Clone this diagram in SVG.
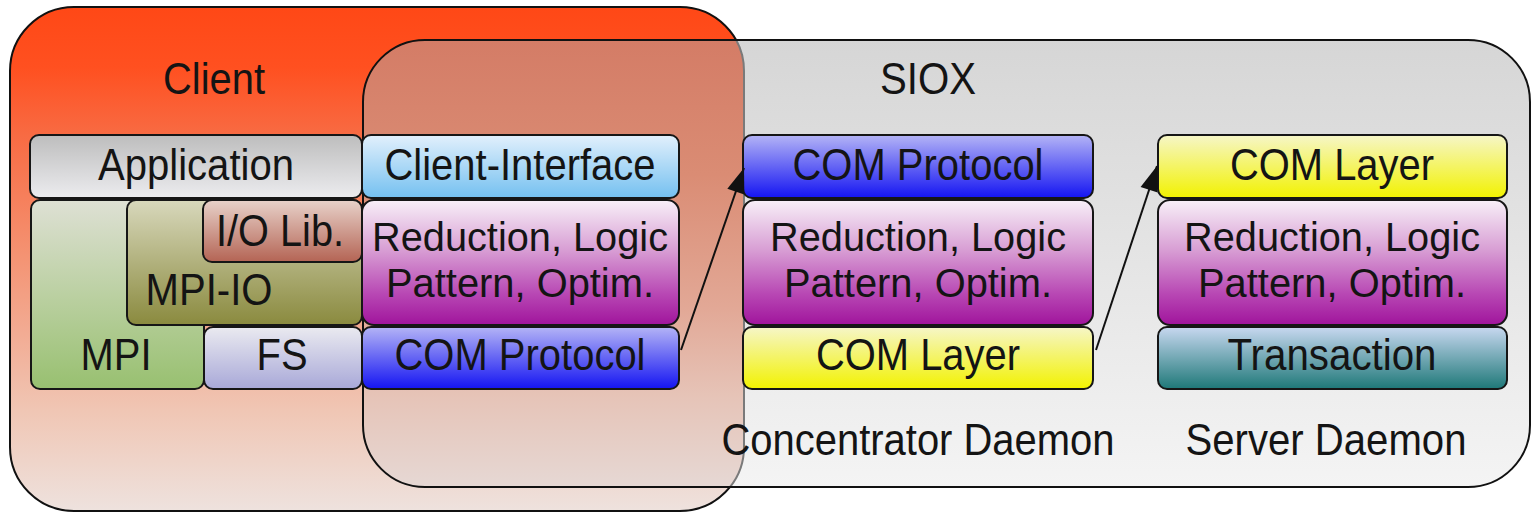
<svg xmlns="http://www.w3.org/2000/svg" width="1532" height="514" viewBox="0 0 1532 514">
  <defs>
    <linearGradient id="gClient" gradientUnits="userSpaceOnUse" x1="0" y1="7" x2="0" y2="511">
      <stop offset="0" stop-color="#FF4816"/>
      <stop offset="0.12" stop-color="#FF5020"/>
      <stop offset="0.25" stop-color="#F86A42"/>
      <stop offset="0.5" stop-color="#F49474"/>
      <stop offset="0.65" stop-color="#F2AC94"/>
      <stop offset="0.8" stop-color="#F0C6B4"/>
      <stop offset="1" stop-color="#EEE2DE"/>
    </linearGradient>
    <linearGradient id="gSiox" gradientUnits="userSpaceOnUse" x1="0" y1="40" x2="0" y2="487">
      <stop offset="0" stop-color="#D6D6D6"/>
      <stop offset="1" stop-color="#F4F4F4"/>
    </linearGradient>
    <linearGradient id="gOverlap" gradientUnits="userSpaceOnUse" x1="0" y1="40" x2="0" y2="487">
      <stop offset="0" stop-color="#D47C66"/>
      <stop offset="0.3" stop-color="#DA8C74"/>
      <stop offset="0.6" stop-color="#E2A896"/>
      <stop offset="0.8" stop-color="#E6C4B8"/>
      <stop offset="1" stop-color="#E6D8D4"/>
    </linearGradient>
    <linearGradient id="gApp" x1="0" y1="0" x2="0" y2="1">
      <stop offset="0" stop-color="#BDBDBD"/>
      <stop offset="1" stop-color="#ECECEF"/>
    </linearGradient>
    <linearGradient id="gIface" x1="0" y1="0" x2="0" y2="1">
      <stop offset="0" stop-color="#E2F0FC"/>
      <stop offset="1" stop-color="#74C0F0"/>
    </linearGradient>
    <linearGradient id="gReduce" x1="0" y1="0" x2="0" y2="1">
      <stop offset="0" stop-color="#F8F0F8"/>
      <stop offset="0.4" stop-color="#D89ED4"/>
      <stop offset="0.75" stop-color="#B848B4"/>
      <stop offset="1" stop-color="#A0149C"/>
    </linearGradient>
    <linearGradient id="gProto" x1="0" y1="0" x2="0" y2="1">
      <stop offset="0" stop-color="#B4B4F6"/>
      <stop offset="1" stop-color="#1414F2"/>
    </linearGradient>
    <linearGradient id="gLayer" x1="0" y1="0" x2="0" y2="1">
      <stop offset="0" stop-color="#F6F6C8"/>
      <stop offset="1" stop-color="#F2F200"/>
    </linearGradient>
    <linearGradient id="gTrans" x1="0" y1="0" x2="0" y2="1">
      <stop offset="0" stop-color="#C8D8F0"/>
      <stop offset="1" stop-color="#1E7878"/>
    </linearGradient>
    <linearGradient id="gMpi" x1="0" y1="0" x2="0" y2="1">
      <stop offset="0" stop-color="#DEE0D4"/>
      <stop offset="1" stop-color="#98C070"/>
    </linearGradient>
    <linearGradient id="gMpiio" x1="0" y1="0" x2="0" y2="1">
      <stop offset="0" stop-color="#D8D8BC"/>
      <stop offset="1" stop-color="#8A8A3E"/>
    </linearGradient>
    <linearGradient id="gIolib" x1="0" y1="0" x2="0" y2="1">
      <stop offset="0" stop-color="#E8D2CA"/>
      <stop offset="1" stop-color="#B46454"/>
    </linearGradient>
    <linearGradient id="gFs" x1="0" y1="0" x2="0" y2="1">
      <stop offset="0" stop-color="#EAEAF0"/>
      <stop offset="1" stop-color="#A8A8D8"/>
    </linearGradient>
    <clipPath id="clipClient">
      <rect x="10" y="7" width="734" height="504" rx="64" ry="64"/>
    </clipPath>
    <clipPath id="clipSiox">
      <rect x="363" y="40" width="1167" height="447" rx="62" ry="62"/>
    </clipPath>
    <marker id="arrow" markerUnits="userSpaceOnUse" markerWidth="25" markerHeight="18" refX="25" refY="9" orient="auto" overflow="visible">
      <path d="M0,0 L25,9 L0,18 Z" fill="#111"/>
    </marker>
  </defs>
  <style>
    .box { stroke: #161616; stroke-width: 2; }
    .lbl { font-family: "Liberation Sans", Arial, sans-serif; font-size: 44px; fill: #141414; text-anchor: middle; }
    .two { font-size: 41px; }
    .conn { stroke: #111; stroke-width: 2; fill: none; }
  </style>

  <!-- containers: Client and SIOX regions -->
  <g id="client-area">
    <rect x="10" y="7" width="734" height="504" rx="64" ry="64" fill="url(#gClient)" stroke="#111" stroke-width="2"/>
    <text class="lbl" x="214" y="94" textLength="102" lengthAdjust="spacingAndGlyphs">Client</text>
  </g>
  <g id="siox-area">
    <rect x="363" y="40" width="1167" height="447" rx="62" ry="62" fill="url(#gSiox)"/>
    <!-- shared region of both containers -->
    <rect x="363" y="40" width="1167" height="447" rx="62" ry="62" fill="url(#gOverlap)" clip-path="url(#clipClient)"/>
    <!-- client outline seen through SIOX -->
    <rect x="10" y="7" width="734" height="504" rx="64" ry="64" fill="none" stroke="#7a7a7a" stroke-width="2" clip-path="url(#clipSiox)"/>
    <rect x="363" y="40" width="1167" height="447" rx="62" ry="62" fill="none" stroke="#111" stroke-width="2"/>
    <text class="lbl" x="928" y="94" textLength="96" lengthAdjust="spacingAndGlyphs">SIOX</text>
    <text class="lbl" x="918" y="455" textLength="393" lengthAdjust="spacingAndGlyphs">Concentrator Daemon</text>
    <text class="lbl" x="1326" y="455" textLength="281" lengthAdjust="spacingAndGlyphs">Server Daemon</text>
  </g>

  <!-- client stack -->
  <g id="application">
    <rect class="box" x="30" y="135" width="332" height="63" rx="9" fill="url(#gApp)"/>
    <text class="lbl" x="196" y="180" textLength="196" lengthAdjust="spacingAndGlyphs">Application</text>
  </g>
  <g id="mpi">
    <rect class="box" x="31" y="200" width="173" height="189" rx="9" fill="url(#gMpi)"/>
    <text class="lbl" x="116" y="370" textLength="71" lengthAdjust="spacingAndGlyphs">MPI</text>
  </g>
  <g id="mpi-io">
    <rect class="box" x="127" y="200" width="235" height="125" rx="9" fill="url(#gMpiio)"/>
    <text class="lbl" x="209" y="305" textLength="127" lengthAdjust="spacingAndGlyphs">MPI-IO</text>
  </g>
  <g id="io-lib">
    <rect class="box" x="203" y="200" width="159" height="62" rx="9" fill="url(#gIolib)"/>
    <text class="lbl" x="280" y="246" textLength="128" lengthAdjust="spacingAndGlyphs">I/O Lib.</text>
  </g>
  <g id="fs">
    <rect class="box" x="204" y="327" width="158" height="62" rx="9" fill="url(#gFs)"/>
    <text class="lbl" x="282" y="370" textLength="51" lengthAdjust="spacingAndGlyphs">FS</text>
  </g>

  <!-- SIOX client library -->
  <g id="client-interface">
    <rect class="box" x="362" y="135" width="317" height="63" rx="9" fill="url(#gIface)"/>
    <text class="lbl" x="520" y="180" textLength="271" lengthAdjust="spacingAndGlyphs">Client-Interface</text>
  </g>
  <g id="client-reduction">
    <rect class="box" x="362" y="200" width="317" height="125" rx="12" fill="url(#gReduce)"/>
    <text class="lbl two" x="520" y="251" textLength="296" lengthAdjust="spacingAndGlyphs">Reduction, Logic</text>
    <text class="lbl two" x="520" y="297" textLength="268" lengthAdjust="spacingAndGlyphs">Pattern, Optim.</text>
  </g>
  <g id="client-com-protocol">
    <rect class="box" x="362" y="327" width="317" height="62" rx="9" fill="url(#gProto)"/>
    <text class="lbl" x="520" y="370" textLength="251" lengthAdjust="spacingAndGlyphs">COM Protocol</text>
  </g>

  <!-- concentrator daemon -->
  <g id="conc-com-protocol">
    <rect class="box" x="743" y="135" width="350" height="63" rx="9" fill="url(#gProto)"/>
    <text class="lbl" x="918" y="180" textLength="251" lengthAdjust="spacingAndGlyphs">COM Protocol</text>
  </g>
  <g id="conc-reduction">
    <rect class="box" x="743" y="200" width="350" height="125" rx="12" fill="url(#gReduce)"/>
    <text class="lbl two" x="918" y="251" textLength="296" lengthAdjust="spacingAndGlyphs">Reduction, Logic</text>
    <text class="lbl two" x="918" y="297" textLength="268" lengthAdjust="spacingAndGlyphs">Pattern, Optim.</text>
  </g>
  <g id="conc-com-layer">
    <rect class="box" x="743" y="327" width="350" height="62" rx="9" fill="url(#gLayer)"/>
    <text class="lbl" x="918" y="370" textLength="204" lengthAdjust="spacingAndGlyphs">COM Layer</text>
  </g>

  <!-- server daemon -->
  <g id="server-com-layer">
    <rect class="box" x="1158" y="135" width="349" height="63" rx="9" fill="url(#gLayer)"/>
    <text class="lbl" x="1332" y="180" textLength="204" lengthAdjust="spacingAndGlyphs">COM Layer</text>
  </g>
  <g id="server-reduction">
    <rect class="box" x="1158" y="200" width="349" height="125" rx="12" fill="url(#gReduce)"/>
    <text class="lbl two" x="1332" y="251" textLength="296" lengthAdjust="spacingAndGlyphs">Reduction, Logic</text>
    <text class="lbl two" x="1332" y="297" textLength="268" lengthAdjust="spacingAndGlyphs">Pattern, Optim.</text>
  </g>
  <g id="server-transaction">
    <rect class="box" x="1158" y="327" width="349" height="62" rx="9" fill="url(#gTrans)"/>
    <text class="lbl" x="1332" y="370" textLength="209" lengthAdjust="spacingAndGlyphs">Transaction</text>
  </g>

  <!-- connectors -->
  <g id="connectors">
    <line class="conn" x1="681" y1="350" x2="744" y2="168" marker-end="url(#arrow)"/>
    <line class="conn" x1="1096" y1="350" x2="1157" y2="166" marker-end="url(#arrow)"/>
  </g>
</svg>
